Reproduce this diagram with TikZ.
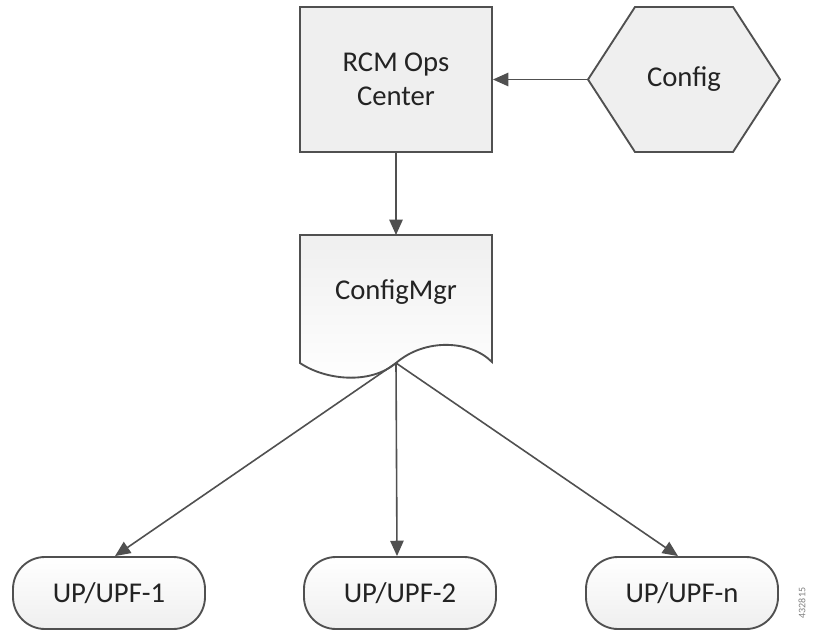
\documentclass[tikz,border=0pt]{standalone}
\usepackage{fontspec}
\setmainfont{Carlito}
\usetikzlibrary{arrows.meta}

\definecolor{edgegray}{RGB}{80,80,80}
\definecolor{boxgray}{RGB}{239,239,239}
\definecolor{textgray}{RGB}{35,35,35}

\tikzset{
  shape line/.style={draw=edgegray, line width=1.4pt},
  opsbox/.style={shape line, fill=boxgray, minimum width=144pt, minimum height=108.75pt, inner sep=0pt},
  pill/.style={shape line, rounded corners=24pt, top color=white, bottom color=boxgray, minimum width=144pt, minimum height=54pt, inner sep=0pt},
  label/.style={text=textgray, font=\fontsize{21.5}{25.5}\selectfont, align=center},
  flow/.style={draw=edgegray, line width=1.2pt, -{Triangle[length=11.5pt,width=10pt]}},
}

\begin{document}
\begin{tikzpicture}[x=0.75pt,y=0.75pt,yscale=-1,xscale=1]
\useasboundingbox (0,0) rectangle (814,632);

% RCM Ops Center
\node (ops) [opsbox, label] at (396,79.5) {RCM Ops\\Center};

% Config hexagon
\draw [shape line, fill=boxgray] (588,79.5) -- (635,7) -- (733,7) -- (780,79.5) -- (733,152) -- (635,152) -- cycle;
\coordinate (cfgw) at (588,79.5);
\node (cfg) [label] at (684,79.5) {Config};

% ConfigMgr document
\draw [shape line, top color=boxgray, bottom color=white] (300,235) -- (492,235) -- (492,362) .. controls (470,340) and (425,338) .. (396,363) .. controls (370,385) and (325,380) .. (300,363) -- cycle;
\coordinate (mgrin) at (396,235);
\coordinate (mgrout) at (396,363);
\node (mgr) [label] at (396,292) {ConfigMgr};

% UP/UPF nodes
\node (up1) [pill, label] at (109,593) {UP/UPF-1};
\node (up2) [pill, label] at (400,593) {UP/UPF-2};
\node (upn) [pill, label] at (682,593) {UP/UPF-n};

% connectors
\draw [flow] (cfgw) -- (ops.east);
\draw [flow] (ops.south) -- (mgrin);
\draw [flow] (mgrout) -- ([xshift=4.5pt]up1.north);
\draw [flow] (mgrout) -- ([xshift=-2.25pt]up2.north);
\draw [flow] (mgrout) -- ([xshift=-3pt]upn.north);

% figure number
\node (fignum) [text=gray, font=\fontsize{7.5}{8}\selectfont, rotate=90] at (802,603) {432815};

\end{tikzpicture}
\end{document}
